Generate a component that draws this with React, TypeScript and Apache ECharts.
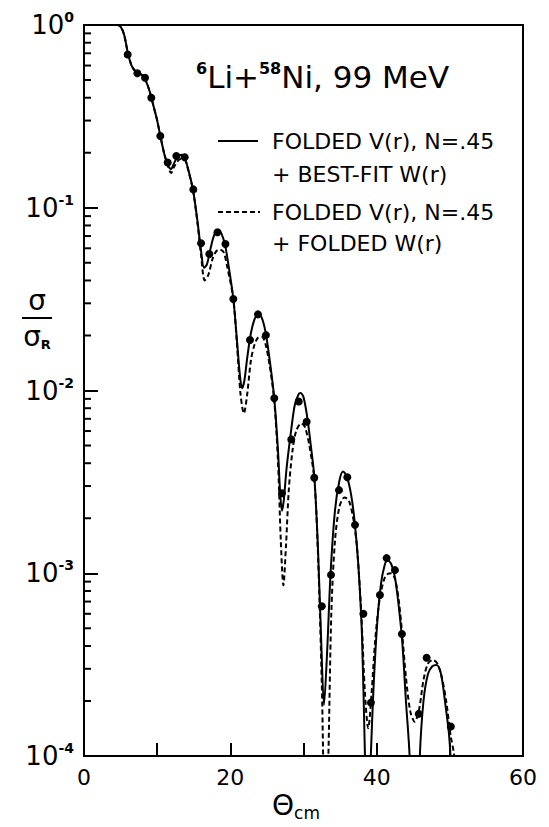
import React, { useEffect, useRef } from "react";
import * as echarts from "echarts";

// Measured data points (theta_cm in degrees, sigma / sigma_R)
const DATA_THETA = [
  5.97, 7.29, 8.34, 9.2, 10.43, 11.44, 12.62, 13.76, 14.94, 16.0, 17.13, 18.25, 19.33,
  20.41, 22.69, 23.78, 24.87, 26.01, 27.06, 28.33, 29.35, 30.43, 31.47, 32.5, 33.76,
  34.85, 35.99, 37.04, 38.18, 39.22, 40.45, 41.36, 42.5, 43.45, 45.75, 46.83, 50.13,
];
const DATA_SIGMA = [
  0.69, 0.544, 0.515, 0.4, 0.247, 0.177, 0.192, 0.189, 0.126, 0.064, 0.0558, 0.0734, 0.0633,
  0.0317, 0.0189, 0.0261, 0.0201, 0.00906, 0.00274, 0.0054, 0.0087, 0.00675, 0.00333, 0.00066, 0.00098,
  0.00285, 0.00335, 0.00184, 0.0006, 0.000196, 0.00076, 0.00121, 0.00104, 0.000465, 0.00017, 0.000345, 0.000145,
];

// Solid curve: folded V(r), N=.45 + best-fit W(r)
const SOLID_THETA = [
  0, 4.5, 5.0, 5.5, 6.0, 6.5, 7.0, 7.5, 8.0, 8.5, 9.0, 9.5, 10.0, 10.5, 11.0, 11.5, 11.9, 12.3,
  12.8, 13.4, 13.8, 14.2, 14.9, 15.5, 16.0, 16.4, 16.8, 17.3, 17.8, 18.3, 18.8, 19.3, 19.8, 20.4,
  20.9, 21.3, 21.6, 21.9, 22.3, 22.8, 23.3, 23.8, 24.3, 24.8, 25.4, 26.0, 26.5, 26.8, 27.05, 27.3,
  27.7, 28.3, 28.8, 29.3, 29.6, 30.0, 30.5, 31.0, 31.5, 32.0, 32.4, 32.8, 33.2, 33.7, 34.3, 34.9,
  35.4, 35.9, 36.5, 37.0, 37.5, 38.0, 38.4, 38.8, 39.2, 39.6, 40.1, 40.6, 41.1, 41.5, 42.0, 42.5,
  43.0, 43.5, 44.0, 44.5, 45.0, 45.4, 45.9, 46.4, 47.0, 47.6, 48.2, 48.8, 49.4, 49.9, 50.2, 50.5,
];
const SOLID_SIGMA = [
  1.0, 1.0, 0.98, 0.88, 0.7, 0.6, 0.56, 0.545, 0.53, 0.49, 0.43, 0.36, 0.3, 0.24, 0.195, 0.17, 0.163, 0.175,
  0.19, 0.195, 0.185, 0.165, 0.125, 0.085, 0.058, 0.047, 0.049, 0.06, 0.071, 0.0755, 0.072, 0.062, 0.047, 0.032,
  0.019, 0.0122, 0.0103, 0.0112, 0.015, 0.0205, 0.0245, 0.0263, 0.025, 0.021, 0.0145, 0.0091, 0.0048, 0.0028, 0.0022, 0.0025,
  0.0038, 0.006, 0.0083, 0.0095, 0.0097, 0.0092, 0.0072, 0.005, 0.0033, 0.0013, 0.00045, 0.00019, 0.00035, 0.001, 0.0022, 0.0032,
  0.0036, 0.0034, 0.0027, 0.0019, 0.0011, 0.00045, 0.0001, 0.00003, 0.0001, 0.00025, 0.00055, 0.00088, 0.00111, 0.00118, 0.00112, 0.00095,
  0.00067, 0.00042, 0.0002, 0.0001, 0.00002, 0.00002, 0.0001, 0.0002, 0.00028, 0.00031, 0.000315, 0.00028, 0.00019, 0.00013, 0.00008, 0.00003,
];

// Dashed curve: folded V(r), N=.45 + folded W(r)
const DASHED_THETA = [
  0, 4.5, 5.0, 5.5, 6.0, 6.5, 7.0, 7.5, 8.0, 8.5, 9.0, 9.5, 10.0, 10.5, 11.0, 11.5, 11.9, 12.4,
  13.2, 13.8, 14.2, 14.9, 15.5, 16.0, 16.5, 17.0, 17.6, 18.1, 18.6, 19.1, 19.6, 20.4, 20.9, 21.4,
  21.85, 22.3, 22.8, 23.3, 23.8, 24.3, 24.8, 25.4, 26.0, 26.5, 26.9, 27.25, 27.6, 28.0, 28.5, 29.0,
  29.7, 30.2, 30.8, 31.5, 32.0, 32.5, 33.0, 33.4, 33.8, 34.3, 34.9, 35.6, 36.2, 36.8, 37.3, 37.9,
  38.4, 38.85, 39.3, 39.8, 40.4, 41.0, 41.5, 42.0, 42.5, 43.0, 43.5, 44.0, 44.6, 45.2, 45.8, 46.4,
  47.0, 47.7, 48.3, 48.9, 49.5, 50.1, 50.6, 51.0,
];
const DASHED_SIGMA = [
  1.0, 1.0, 0.98, 0.88, 0.7, 0.6, 0.56, 0.545, 0.53, 0.49, 0.43, 0.36, 0.3, 0.24, 0.195, 0.168, 0.155, 0.17,
  0.185, 0.183, 0.163, 0.125, 0.083, 0.055, 0.04, 0.043, 0.053, 0.058, 0.059, 0.057, 0.047, 0.032, 0.018, 0.0095,
  0.0075, 0.0095, 0.0145, 0.0178, 0.0195, 0.0197, 0.018, 0.0135, 0.0088, 0.0042, 0.0015, 0.00086, 0.0014, 0.0029, 0.0047, 0.006,
  0.0066, 0.0063, 0.005, 0.0032, 0.0012, 0.00025, 0.00003, 0.0001, 0.0006, 0.0015, 0.0023, 0.0026, 0.0025, 0.002, 0.0014, 0.0006,
  0.00022, 0.000142, 0.00022, 0.00043, 0.00072, 0.00092, 0.00099, 0.001, 0.00093, 0.00072, 0.00046, 0.00027, 0.000175, 0.000154, 0.00018, 0.00026,
  0.00032, 0.000335, 0.00032, 0.00027, 0.0002, 0.00013, 0.0001, 0.00005,
];

// Axis definitions
const X_MIN = 0;
const X_MAX = 60;
const X_INTERVAL = 10;
const X_LABELLED = [0, 20, 40, 60];
const Y_MIN = 1e-4;
const Y_MAX = 1;
const MINOR_MANTISSAS = [2, 3, 4, 5, 6, 7, 8, 9];
const DECADES = [1e-4, 1e-3, 1e-2, 1e-1];

const TITLE_PARTS = ["6", "Li+", "58", "Ni, 99 MeV"];
const LEGEND_SOLID = ["FOLDED V(r), N=.45", "+ BEST-FIT W(r)"];
const LEGEND_DASHED = ["FOLDED V(r), N=.45", "+ FOLDED W(r)"];

const FONT = "DejaVu Sans";

export default function App() {
  const ref = useRef<HTMLDivElement>(null);

  useEffect(() => {
    if (!ref.current) return;
    const chart = echarts.init(ref.current, undefined, { renderer: "svg" });

    const pairs = (xs: number[], ys: number[]) => xs.map((x, i) => [x, ys[i]]);
    const minorTickData: number[][] = [];
    DECADES.forEach((d) => MINOR_MANTISSAS.forEach((m) => minorTickData.push([X_MIN, d * m])));

    const graphics: any[] = [
      {
        type: "text",
        x: 196,
        y: 77,
        style: {
          text: `{s|${TITLE_PARTS[0]}}{m|${TITLE_PARTS[1]}}{s|${TITLE_PARTS[2]}}{m|${TITLE_PARTS[3]}}`,
          verticalAlign: "middle",
          textVerticalAlign: "middle",
          rich: {
            s: { fontFamily: FONT, fontSize: 16, fontWeight: "bold", lineHeight: 16, verticalAlign: "top", fill: "#000" },
            m: { fontFamily: FONT, fontSize: 31, lineHeight: 34, fill: "#000" },
          },
        },
      },
      {
        type: "line",
        shape: { x1: 218, y1: 141, x2: 258, y2: 141 },
        style: { stroke: "#000", lineWidth: 2 },
      },
      {
        type: "line",
        shape: { x1: 218, y1: 212, x2: 260, y2: 212 },
        style: { stroke: "#000", lineWidth: 2, lineDash: [5, 3] },
      },
      ...[
        [LEGEND_SOLID[0], 141],
        [LEGEND_SOLID[1], 174],
        [LEGEND_DASHED[0], 212],
        [LEGEND_DASHED[1], 243],
      ].map(([t, y]) => ({
        type: "text",
        x: 272,
        y: y as number,
        style: {
          text: t as string,
          fontFamily: FONT,
          fontSize: 22,
          fill: "#000",
          verticalAlign: "middle",
          textVerticalAlign: "middle",
        },
      })),
      {
        type: "text",
        x: 272,
        y: 805,
        style: {
          text: "{t|Θ}{s|cm}",
          verticalAlign: "middle",
          textVerticalAlign: "middle",
          rich: {
            t: { fontFamily: FONT, fontSize: 28, lineHeight: 32, fill: "#000" },
            s: { fontFamily: FONT, fontSize: 17, lineHeight: 14, verticalAlign: "bottom", fill: "#000" },
          },
        },
      },
      {
        type: "text",
        x: 37,
        y: 300,
        style: {
          text: "σ",
          fontFamily: FONT,
          fontSize: 28,
          fill: "#000",
          align: "center",
          textAlign: "center",
          verticalAlign: "middle",
          textVerticalAlign: "middle",
        },
      },
      {
        type: "line",
        shape: { x1: 22, y1: 318, x2: 52, y2: 318 },
        style: { stroke: "#000", lineWidth: 2 },
      },
      {
        type: "text",
        x: 37,
        y: 336,
        style: {
          text: "{a|σ}{b|R}",
          align: "center",
          textAlign: "center",
          verticalAlign: "middle",
          textVerticalAlign: "middle",
          rich: {
            a: { fontFamily: FONT, fontSize: 28, lineHeight: 30, fill: "#000" },
            b: { fontFamily: FONT, fontSize: 13, fontWeight: "bold", lineHeight: 12, verticalAlign: "bottom", fill: "#000" },
          },
        },
      },
    ];

    const option: any = {
      animation: false,
      backgroundColor: "#fff",
      grid: {
        left: 84,
        right: 26,
        top: 25,
        bottom: 71,
        show: true,
        borderColor: "#000",
        borderWidth: 2,
      },
      xAxis: {
        type: "value",
        min: X_MIN,
        max: X_MAX,
        interval: X_INTERVAL,
        axisLine: { show: true, lineStyle: { color: "#000", width: 2 } },
        axisTick: { show: true, inside: true, length: 13, lineStyle: { color: "#000", width: 2 } },
        splitLine: { show: false },
        axisLabel: {
          color: "#000",
          fontFamily: FONT,
          fontSize: 22,
          margin: 10,
          formatter: (v: number) => (X_LABELLED.includes(v) ? String(v) : ""),
        },
      },
      yAxis: {
        type: "log",
        logBase: 10,
        min: Y_MIN,
        max: Y_MAX,
        axisLine: { show: true, lineStyle: { color: "#000", width: 2 } },
        axisTick: { show: true, inside: true, length: 14, lineStyle: { color: "#000", width: 2 } },
        splitLine: { show: false },
        axisLabel: {
          color: "#000",
          margin: 10,
          formatter: (v: number) => {
            const e = Math.round(Math.log10(v));
            return `{b|10}{e|${e === 0 ? "0" : "-" + -e}}`;
          },
          rich: {
            b: { fontFamily: FONT, fontSize: 26, lineHeight: 30, color: "#000" },
            e: { fontFamily: FONT, fontSize: 14, fontWeight: "bold", lineHeight: 14, verticalAlign: "top", color: "#000" },
          },
        },
      },
      series: [
        {
          type: "scatter",
          data: minorTickData,
          symbol: "rect",
          symbolSize: [7, 2],
          symbolOffset: [3.5, 0],
          clip: false,
          silent: true,
          itemStyle: { color: "#000", opacity: 1 },
          z: 5,
        },
        {
          type: "line",
          data: pairs(SOLID_THETA, SOLID_SIGMA),
          showSymbol: false,
          smooth: 0.3,
          clip: true,
          lineStyle: { color: "#000", width: 2 },
          z: 3,
        },
        {
          type: "line",
          data: pairs(DASHED_THETA, DASHED_SIGMA),
          showSymbol: false,
          smooth: 0.3,
          clip: true,
          lineStyle: { color: "#000", width: 2, type: [5, 3] },
          z: 3,
        },
        {
          type: "scatter",
          data: pairs(DATA_THETA, DATA_SIGMA),
          symbol: "circle",
          symbolSize: 8,
          itemStyle: { color: "#000", opacity: 1 },
          z: 4,
        },
      ],
      graphic: graphics,
    };

    chart.setOption(option);
    return () => chart.dispose();
  }, []);

  return (
    <div
      ref={ref}
      style={{ position: "fixed", left: 0, top: 0, width: 549, height: 827, background: "#fff" }}
    />
  );
}
